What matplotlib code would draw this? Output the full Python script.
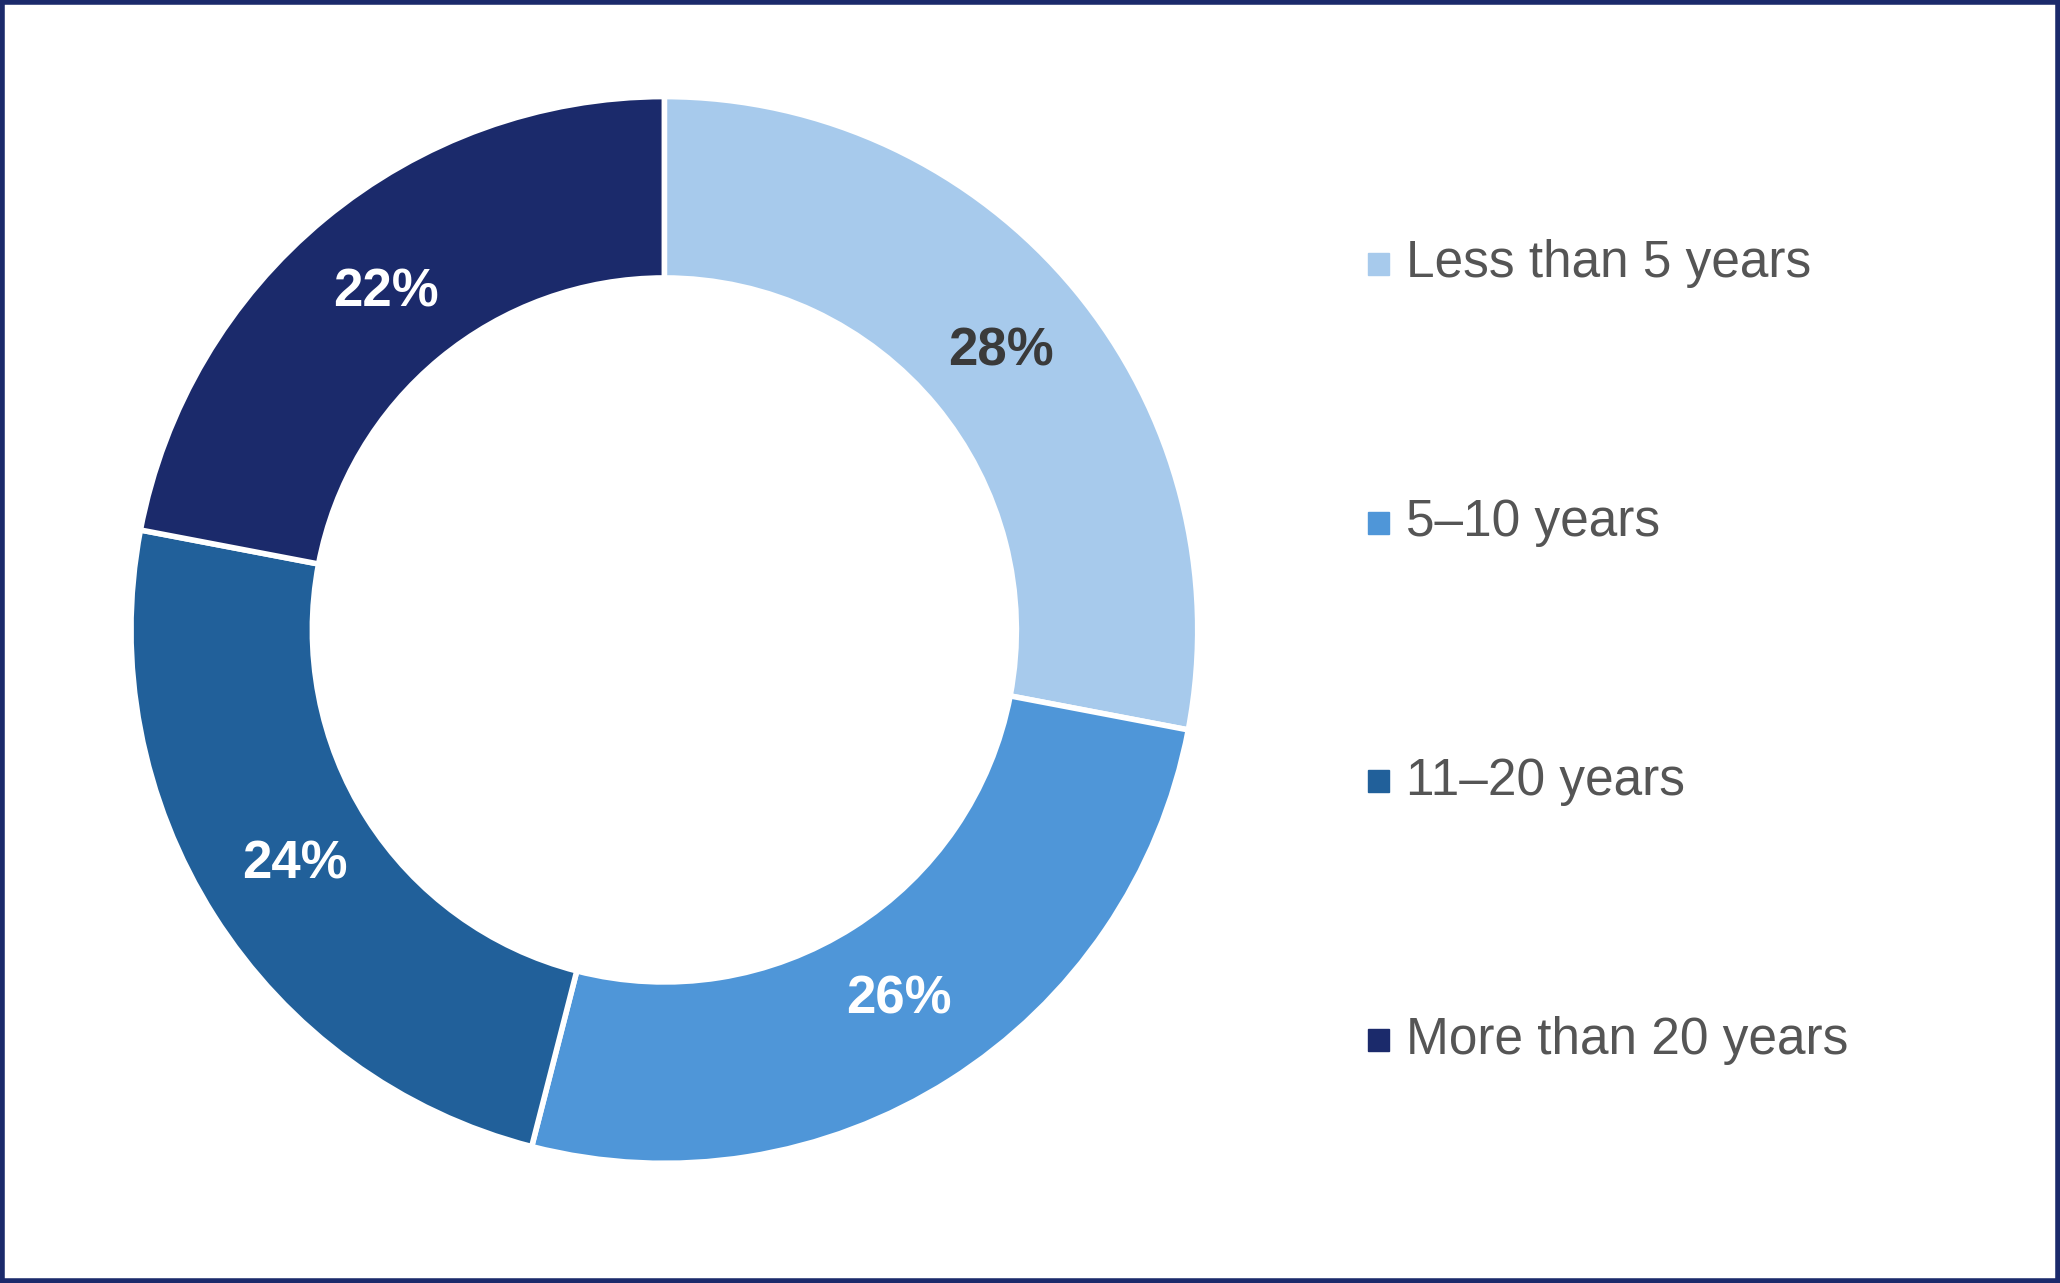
import matplotlib
matplotlib.use('Agg')
import matplotlib.pyplot as plt
from matplotlib.patches import Rectangle
import numpy as np

labels = ['Less than 5 years', '5–10 years', '11–20 years', 'More than 20 years']
shares = [28, 26, 24, 22]
colors = ['#A7CAEC', '#4F96D8', '#21609A', '#1B2A6B']
label_colors = ['#3a3a3a', 'white', 'white', 'white']

plt.rcParams['font.family'] = ['Liberation Sans', 'DejaVu Sans']

fig = plt.figure(figsize=(20.6, 12.83), dpi=100)
ax = fig.add_axes([0.061, 0.089, 0.523, 0.84])
wedges, _ = ax.pie(shares, colors=colors, startangle=90, counterclock=False,
                   wedgeprops=dict(width=0.34, edgecolor='white', linewidth=4))
ax.set_xlim(-1.01, 1.01)
ax.set_ylim(-1.01, 1.01)
ax.set_aspect('equal')

ang = 90.0
for s, lc in zip(shares, label_colors):
    mid = np.radians(ang - s / 100 * 360 / 2)
    ang -= s / 100 * 360
    ax.text(0.82 * np.cos(mid), 0.82 * np.sin(mid), f'{s}%', ha='center', va='center',
            fontsize=38, fontweight='bold', color=lc)

# legend
for i, (lab, c) in enumerate(zip(labels, colors)):
    y = 1 - (201 + 197 * i) / 977
    fig.patches.append(Rectangle((1041 / 1568, y - 0.0085), 0.0105, 0.017,
                                 transform=fig.transFigure, color=c))
    fig.text(1070 / 1568, y, lab, fontsize=37, color='#555555', va='center', ha='left')

# frame
fig.patches.append(Rectangle((0.001, 0.0015), 0.998, 0.997, transform=fig.transFigure,
                             fill=False, edgecolor='#1B2A6B', linewidth=4))

fig.savefig('out.png', dpi=100)
